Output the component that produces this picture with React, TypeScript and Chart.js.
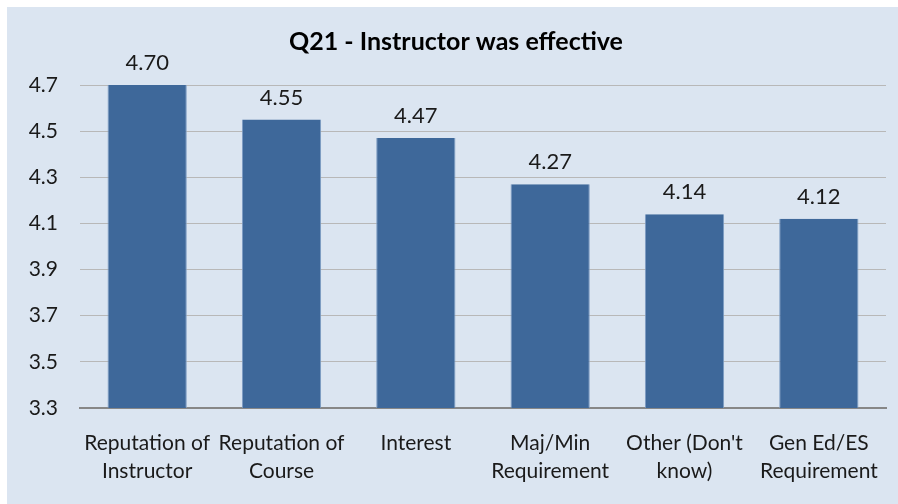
import React, { useEffect, useRef } from "react";
import { Chart, registerables } from "chart.js";

Chart.register(...registerables);

const categories: string[][] = [
  ["Reputation of", "Instructor"],
  ["Reputation of", "Course"],
  ["Interest"],
  ["Maj/Min", "Requirement"],
  ["Other (Don't", "know)"],
  ["Gen Ed/ES", "Requirement"],
];
const values: number[] = [4.7, 4.55, 4.47, 4.27, 4.14, 4.12];
const yTicks: number[] = [3.3, 3.5, 3.7, 3.9, 4.1, 4.3, 4.5, 4.7];
const title = "Q21 - Instructor was effective";

const FONT = "Lato, 'Open Sans', sans-serif";

const labelPlugin = {
  id: "barLabels",
  afterDatasetsDraw(chart: any) {
    const ctx = chart.ctx;
    const meta = chart.getDatasetMeta(0);
    ctx.save();
    ctx.font = `22px ${FONT}`;
    ctx.fillStyle = "#1a1a1a";
    ctx.textAlign = "center";
    ctx.textBaseline = "alphabetic";
    meta.data.forEach((el: any, i: number) => {
      ctx.fillText(values[i].toFixed(2), el.x, el.y - 15);
    });
    ctx.restore();
  },
};

export default function App() {
  const ref = useRef<HTMLCanvasElement | null>(null);
  useEffect(() => {
    document.body.style.margin = "0";
    const chart = new Chart(ref.current as HTMLCanvasElement, {
      type: "bar",
      data: {
        labels: categories,
        datasets: [
          {
            data: values,
            backgroundColor: "#3e689a",
            borderColor: "#7d9cc3",
            borderWidth: { left: 1, right: 1, top: 0, bottom: 0 } as any,
            borderSkipped: false,
            categoryPercentage: 0.59,
            barPercentage: 1,
          },
        ],
      },
      options: {
        animation: false,
        responsive: false,
        maintainAspectRatio: false,
        layout: { padding: { left: 19, right: 12, top: 0, bottom: 0 } },
        plugins: {
          legend: { display: false },
          tooltip: { enabled: false },
          title: {
            display: true,
            text: title,
            color: "#000000",
            font: { family: FONT, size: 25, weight: "bold", lineHeight: 1.2 },
            padding: { top: 20, bottom: 28 },
          },
        },
        scales: {
          x: {
            grid: { display: false, drawTicks: false },
            border: { display: true, color: "#878787", width: 2 },
            ticks: {
              color: "#1a1a1a",
              font: { family: FONT, size: 21, lineHeight: 1.3 },
              padding: 22,
              maxRotation: 0,
              autoSkip: false,
            },
            afterFit: (s: any) => {
              s.height = 96;
              s.paddingLeft = 0;
              s.paddingRight = 0;
            },
          },
          y: {
            min: 3.3,
            max: 4.7,
            afterBuildTicks: (s: any) => {
              s.ticks = yTicks.map((v) => ({ value: v }));
            },
            grid: { color: "#b8b8b8", lineWidth: 1, drawTicks: false },
            border: { display: false },
            ticks: {
              color: "#1a1a1a",
              font: { family: FONT, size: 21 },
              padding: 22,
              callback: (v: any) => Number(v).toFixed(1),
            },
            afterFit: (s: any) => {
              s.width = 54;
              s.paddingTop = 0;
              s.paddingBottom = 0;
            },
          },
        },
      },
      plugins: [labelPlugin],
    });
    return () => chart.destroy();
  }, []);
  return (
    <div style={{ width: 898, height: 504, background: "#ffffff", position: "relative" }}>
      <div
        style={{
          position: "absolute",
          left: 7,
          top: 7,
          width: 891,
          height: 497,
          background: "#dbe5f1",
        }}
      >
        <canvas ref={ref} width={891} height={497} style={{ display: "block" }} />
      </div>
    </div>
  );
}
